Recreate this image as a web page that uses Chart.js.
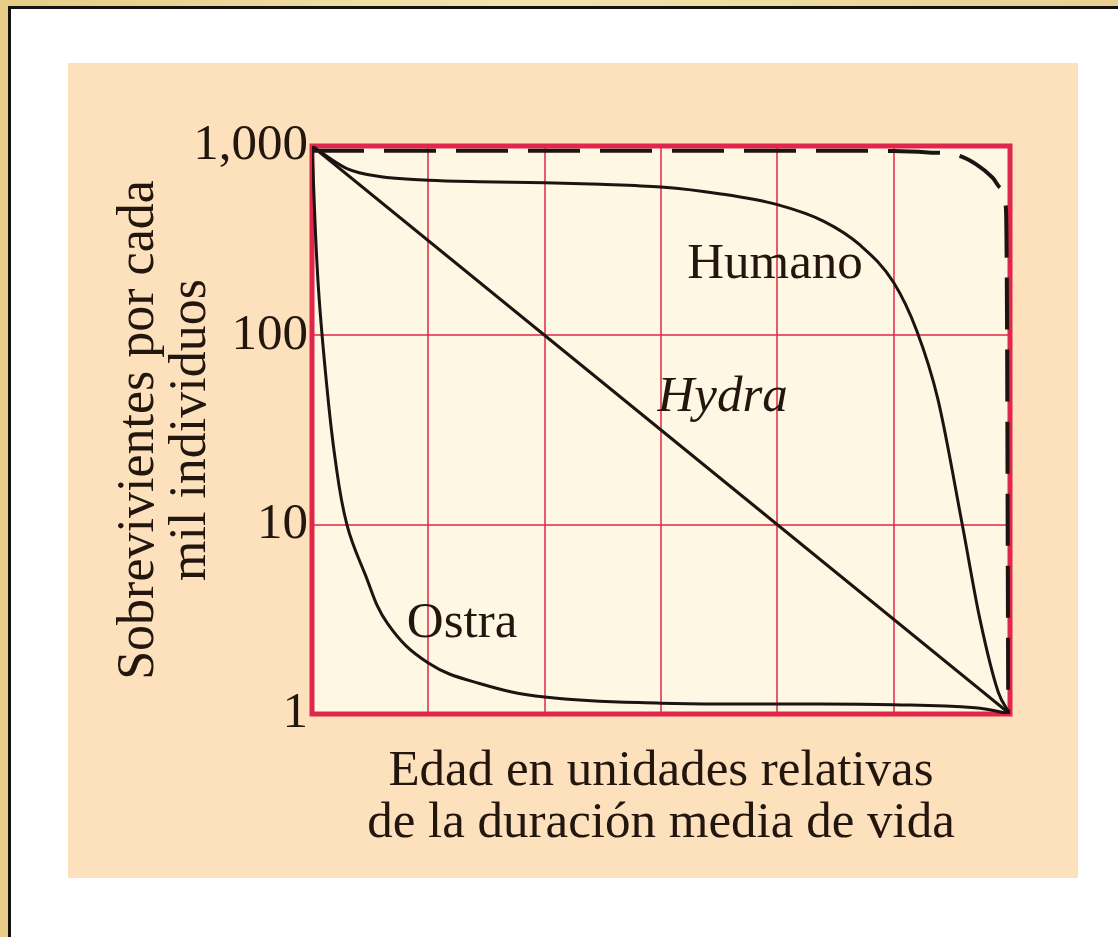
<!DOCTYPE html>
<html lang="es">
<head>
<meta charset="utf-8">
<title>Curvas de supervivencia</title>
<script src="https://cdn.jsdelivr.net/npm/chart.js@4.4.1/dist/chart.umd.min.js"></script>
<style>
    html, body { margin: 0; padding: 0; }
    body { width: 1118px; height: 937px; overflow: hidden; position: relative;
        background: linear-gradient(90deg, #e6cc85, #f3e4ae 45%, #e8d090); }
    .marco { position: absolute; left: 8px; top: 6px; right: 0; bottom: 0; background: #ffffff;
        border-left: 3px solid #141210; border-top: 3px solid #141210; }
    .panel { position: absolute; left: 68px; top: 63px; width: 1010px; height: 815px; background: #fde0bc; }
    #curvas { position: absolute; left: 0; top: 0; }
</style>
</head>
<body>
<div class="marco"></div>
<div class="panel"></div>
<canvas id="curvas" width="1118" height="937"></canvas>
<script>
// данные (x - возраст в относительных единицах, y - выжившие на 1000)
let humanoX = [0, 0.3, 0.58, 1, 1.44, 2, 2.48, 3, 3.5, 4, 4.4, 4.71, 5, 5.2, 5.38, 5.59, 5.74, 5.9, 6];
let humanoY = [1000, 760, 690, 660, 648, 640, 628, 607, 560, 490, 400, 300, 190, 105, 46, 10, 3.2, 1.3, 1];

let hydraX = [0, 6];
let hydraY = [1000, 1];

let ostraX = [0, 0.05, 0.12, 0.2, 0.3, 0.45, 0.65, 1, 1.44, 2, 3, 4, 5, 5.7, 6];
let ostraY = [1000, 200, 60, 22, 10, 5.6, 3.0, 1.86, 1.45, 1.23, 1.14, 1.13, 1.12, 1.08, 1];

// пунктир (идеальная кривая)
let idealX = [0, 1, 2, 3, 4, 5, 5.3, 5.53, 5.71, 5.85, 5.92, 5.965, 5.975, 5.98, 5.985];
let idealY = [945, 945, 945, 945, 945, 940, 925, 900, 800, 680, 600, 470, 100, 10, 1];

let yTicks = [1, 10, 100, 1000];
let yTickLabels = ["1", "10", "100", "1,000"];

let curveLabelText = ["Humano", "Hydra", "Ostra"];
let curveLabelX = [3.98, 3.53, 1.29];
let curveLabelY = [235, 47, 3.0];
let curveLabelItalic = [false, true, false];

let textColor = "#22160f";
let redColor = "#e0264a";
let fontName = '"Liberation Serif", "Times New Roman", serif';

function makePoints(xs, ys) {
    let points = [];
    for (let i = 0; i < xs.length; i++) {
        points.push({x: xs[i], y: ys[i]});
    }
    return points;
}

function lineDataset(label, xs, ys, dashed, smooth) {
    let ds = {
        label: label,
        data: makePoints(xs, ys),
        borderColor: "#1c1410",
        borderWidth: dashed ? 4 : 3,
        borderDash: dashed ? [52, 20] : [],
        pointRadius: 0,
        fill: false
    };
    if (smooth) {
        ds.tension = 0.4;  // обычный сплайн, без изломов
    } else {
        ds.cubicInterpolationMode = "monotone";
    }
    return ds;
}

// фон области графика + красная рамка
const plotFramePlugin = {
    id: "plotFrame",
    beforeDraw(chart) {
        const {ctx, chartArea} = chart;
        ctx.save();
        ctx.fillStyle = "#fef7e4";
        ctx.fillRect(chartArea.left, chartArea.top, chartArea.right - chartArea.left, chartArea.bottom - chartArea.top);
        ctx.restore();
    },
    beforeDatasetsDraw(chart) {
        const {ctx, chartArea} = chart;
        ctx.save();
        ctx.strokeStyle = redColor;
        ctx.lineWidth = 5;
        ctx.strokeRect(chartArea.left, chartArea.top, chartArea.right - chartArea.left, chartArea.bottom - chartArea.top);
        ctx.restore();
    }
};

// подписи кривых
const curveLabelsPlugin = {
    id: "curveLabels",
    afterDatasetsDraw(chart) {
        const ctx = chart.ctx;
        const xScale = chart.scales.x;
        const yScale = chart.scales.y;
        ctx.save();
        ctx.fillStyle = textColor;
        ctx.textAlign = "center";
        ctx.textBaseline = "middle";
        for (let i = 0; i < curveLabelText.length; i++) {
            ctx.font = (curveLabelItalic[i] ? "italic " : "") + "51px " + fontName;
            ctx.fillText(curveLabelText[i], xScale.getPixelForValue(curveLabelX[i]), yScale.getPixelForValue(curveLabelY[i]));
        }
        ctx.restore();
    }
};

function survivalChart() {
    const ctx = document.getElementById("curvas").getContext("2d");
    const chart = new Chart(ctx, {
        type: "line",
        data: {
            datasets: [
                lineDataset("Ideal", idealX, idealY, true, false),
                lineDataset("Humano", humanoX, humanoY, false, false),
                lineDataset("Hydra", hydraX, hydraY, false, false),
                lineDataset("Ostra", ostraX, ostraY, false, true)
            ]
        },
        options: {
            responsive: false,
            animation: false,
            devicePixelRatio: 1,
            layout: {
                padding: {left: 68, top: 146, right: 108, bottom: 59}
            },
            plugins: {
                legend: {display: false},
                tooltip: {enabled: false}
            },
            scales: {
                x: {
                    type: "linear",
                    min: 0,
                    max: 6,
                    ticks: {display: false, stepSize: 1},
                    grid: {color: "rgba(222, 40, 70, 0.75)", lineWidth: 2, drawTicks: false},
                    border: {display: false},
                    title: {
                        display: true,
                        text: ["Edad en unidades relativas", "de la duración media de vida"],
                        color: textColor,
                        font: {family: fontName, size: 51, lineHeight: 1.03},
                        padding: {top: 0, bottom: 28}
                    },
                    afterFit: function(scale) {
                        scale.height = 164;
                    }
                },
                y: {
                    type: "logarithmic",
                    min: 1,
                    max: 1000,
                    afterBuildTicks: function(scale) {
                        scale.ticks = yTicks.map(v => ({value: v}));
                    },
                    ticks: {
                        color: textColor,
                        padding: 4,
                        font: {family: fontName, size: 51},
                        callback: function(value) {
                            let i = yTicks.indexOf(value);
                            return i >= 0 ? yTickLabels[i] : "";
                        }
                    },
                    grid: {color: "rgba(222, 40, 70, 0.75)", lineWidth: 2, drawTicks: false},
                    border: {display: false},
                    title: {
                        display: true,
                        text: ["Sobrevivientes por cada", "mil individuos"],
                        color: textColor,
                        font: {family: fontName, size: 52, lineHeight: 1.0},
                        padding: {top: 45, bottom: 0}
                    },
                    afterFit: function(scale) {
                        scale.width = 244;
                    }
                }
            }
        },
        plugins: [plotFramePlugin, curveLabelsPlugin]
    });
}

survivalChart();
</script>
</body>
</html>
